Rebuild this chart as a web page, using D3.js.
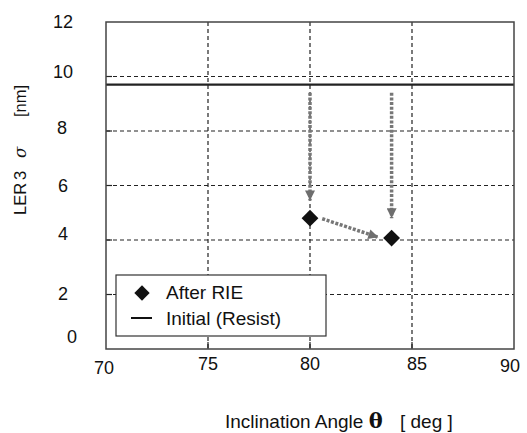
<!DOCTYPE html>
<html>
<head>
<meta charset="utf-8">
<script src="https://cdn.jsdelivr.net/npm/d3@7"></script>
<style>
  body { margin: 0; background: #fff; }
  text { font-family: "Liberation Sans", Arial, sans-serif; fill: #111; }
</style>
</head>
<body>
<div id="plot"></div>
<script>
// data
var xTicks = [70, 75, 80, 85, 90];
var yTicks = [0, 2, 4, 6, 8, 10, 12];
var angles = [80, 84];
var lerAfterRie = [4.8, 4.07];
var lerInitial = 9.7;
// arrows: start / end points in data units
var arrowStarts = [[80, 9.4], [84, 9.4], [80.6, 4.78]];
var arrowEnds = [[80, 5.45], [84, 4.8], [83.35, 4.1]];
var legendLabels = ["After RIE", "Initial (Resist)"];

var svgWidth = 527;
var svgHeight = 433;

var margin = { top: 22, right: 13, bottom: 84, left: 106 };
var chartWidth = svgWidth - margin.left - margin.right;
var chartHeight = svgHeight - margin.top - margin.bottom;

// small nudges so the tick labels sit like in the scanned figure
var yLabelNudge = { 0: [4, -12], 2: [-5, -1], 4: [-5, -6], 6: [-5, 0], 8: [-6, -3], 10: [0, -5], 12: [0, 0] };
var xLabelNudge = { 70: [-2, 25], 75: [0, 21], 80: [0, 21], 85: [5, 21], 90: [-4, 23] };

var svg = d3.select("#plot")
  .append("svg")
  .attr("width", svgWidth)
  .attr("height", svgHeight);

var chartGroup = svg.append("g")
  .attr("transform", `translate(${margin.left}, ${margin.top})`);

var xScale = d3.scaleLinear().domain([70, 90]).range([0, chartWidth]);
var yScale = d3.scaleLinear().domain([0, 12]).range([chartHeight, 0]);

// dashed grid
chartGroup.selectAll(".vgrid")
  .data(xTicks.slice(1, -1))
  .enter()
  .append("line")
  .attr("x1", d => xScale(d)).attr("x2", d => xScale(d))
  .attr("y1", 0).attr("y2", chartHeight)
  .attr("stroke", "#222").attr("stroke-width", 1.2)
  .attr("stroke-dasharray", "4,3");

chartGroup.selectAll(".hgrid")
  .data(yTicks.slice(1, -1))
  .enter()
  .append("line")
  .attr("x1", 0).attr("x2", chartWidth)
  .attr("y1", d => yScale(d)).attr("y2", d => yScale(d))
  .attr("stroke", "#222").attr("stroke-width", 1.2)
  .attr("stroke-dasharray", "4,3");

// inner ticks
chartGroup.selectAll(".ytick")
  .data(yTicks.slice(1, -1))
  .enter()
  .append("line")
  .attr("x1", 0).attr("x2", 6)
  .attr("y1", d => yScale(d)).attr("y2", d => yScale(d))
  .attr("stroke", "#222").attr("stroke-width", 1.2);

chartGroup.selectAll(".xtick")
  .data(xTicks.slice(1, -1))
  .enter()
  .append("line")
  .attr("x1", d => xScale(d)).attr("x2", d => xScale(d))
  .attr("y1", chartHeight).attr("y2", chartHeight - 7)
  .attr("stroke", "#222").attr("stroke-width", 1.2);

// tick labels
chartGroup.selectAll(".ylabel")
  .data(yTicks)
  .enter()
  .append("text")
  .attr("x", d => -33 + yLabelNudge[d][0])
  .attr("y", d => yScale(d) + yLabelNudge[d][1])
  .attr("dy", "0.35em")
  .style("text-anchor", "end")
  .style("font-size", "18px")
  .text(d => d);

chartGroup.selectAll(".xlabel")
  .data(xTicks)
  .enter()
  .append("text")
  .attr("x", d => xScale(d) + xLabelNudge[d][0])
  .attr("y", d => chartHeight + xLabelNudge[d][1])
  .style("text-anchor", "middle")
  .style("font-size", "18px")
  .text(d => d);

// initial resist level
chartGroup.append("line")
  .attr("x1", 0).attr("x2", chartWidth)
  .attr("y1", yScale(lerInitial)).attr("y2", yScale(lerInitial))
  .attr("stroke", "#222").attr("stroke-width", 2.2);

// arrows
svg.append("defs").append("marker")
  .attr("id", "head")
  .attr("markerUnits", "userSpaceOnUse")
  .attr("viewBox", "0 0 10 10")
  .attr("refX", 10).attr("refY", 5)
  .attr("markerWidth", 12).attr("markerHeight", 10)
  .attr("orient", "auto")
  .append("path")
  .attr("d", "M0,0 L10,5 L0,10 Z")
  .attr("fill", "#6e6e6e");

chartGroup.selectAll(".arrow")
  .data(arrowStarts)
  .enter()
  .append("line")
  .attr("x1", d => xScale(d[0]))
  .attr("y1", d => yScale(d[1]))
  .attr("x2", (d, i) => xScale(arrowEnds[i][0]))
  .attr("y2", (d, i) => yScale(arrowEnds[i][1]))
  .attr("stroke", "#777")
  .attr("stroke-width", 3.5)
  .attr("stroke-dasharray", "3,1.6")
  .attr("marker-end", "url(#head)");

// after RIE points
var diamond = d3.symbol().type(d3.symbolDiamond2).size(180);
chartGroup.selectAll(".pt")
  .data(angles)
  .enter()
  .append("path")
  .attr("d", diamond)
  .attr("transform", (d, i) => `translate(${xScale(d)}, ${yScale(lerAfterRie[i])})`)
  .attr("fill", "#111");

// frame
chartGroup.append("rect")
  .attr("width", chartWidth).attr("height", chartHeight)
  .attr("fill", "none")
  .attr("stroke", "#444").attr("stroke-width", 1.5);

// legend
var legend = svg.append("g").attr("transform", "translate(116, 275)");
legend.append("rect")
  .attr("width", 210).attr("height", 61)
  .attr("fill", "#fff")
  .attr("stroke", "#333").attr("stroke-width", 1.2);
legend.append("path")
  .attr("d", d3.symbol().type(d3.symbolDiamond2).size(150))
  .attr("transform", "translate(26, 18)")
  .attr("fill", "#111");
legend.append("line")
  .attr("x1", 15).attr("x2", 36).attr("y1", 43).attr("y2", 43)
  .attr("stroke", "#111").attr("stroke-width", 2);
legend.selectAll(".lt")
  .data(legendLabels)
  .enter()
  .append("text")
  .attr("x", 50)
  .attr("y", (d, i) => 24 + i * 26)
  .style("font-size", "19px")
  .text(d => d);

// axis titles
var yt = svg.append("text")
  .attr("transform", "translate(26, 0) rotate(-90)")
  .style("font-size", "16.5px");
yt.append("tspan").attr("x", -215).text("LER");
yt.append("tspan").attr("x", -180).text("3");
yt.append("tspan").attr("x", -158).style("font-style", "italic").style("font-family", "DejaVu Serif").text("σ");
yt.append("tspan").attr("x", -117).text("[nm]");

var xt = svg.append("text")
  .attr("x", 225).attr("y", 428)
  .style("font-size", "19px");
xt.append("tspan").text("Inclination Angle ");
xt.append("tspan").style("font-family", "DejaVu Serif").style("font-weight", "bold").style("font-size", "21px").text("θ");
xt.append("tspan").attr("x", 400).text("[ deg ]");
</script>
</body>
</html>
